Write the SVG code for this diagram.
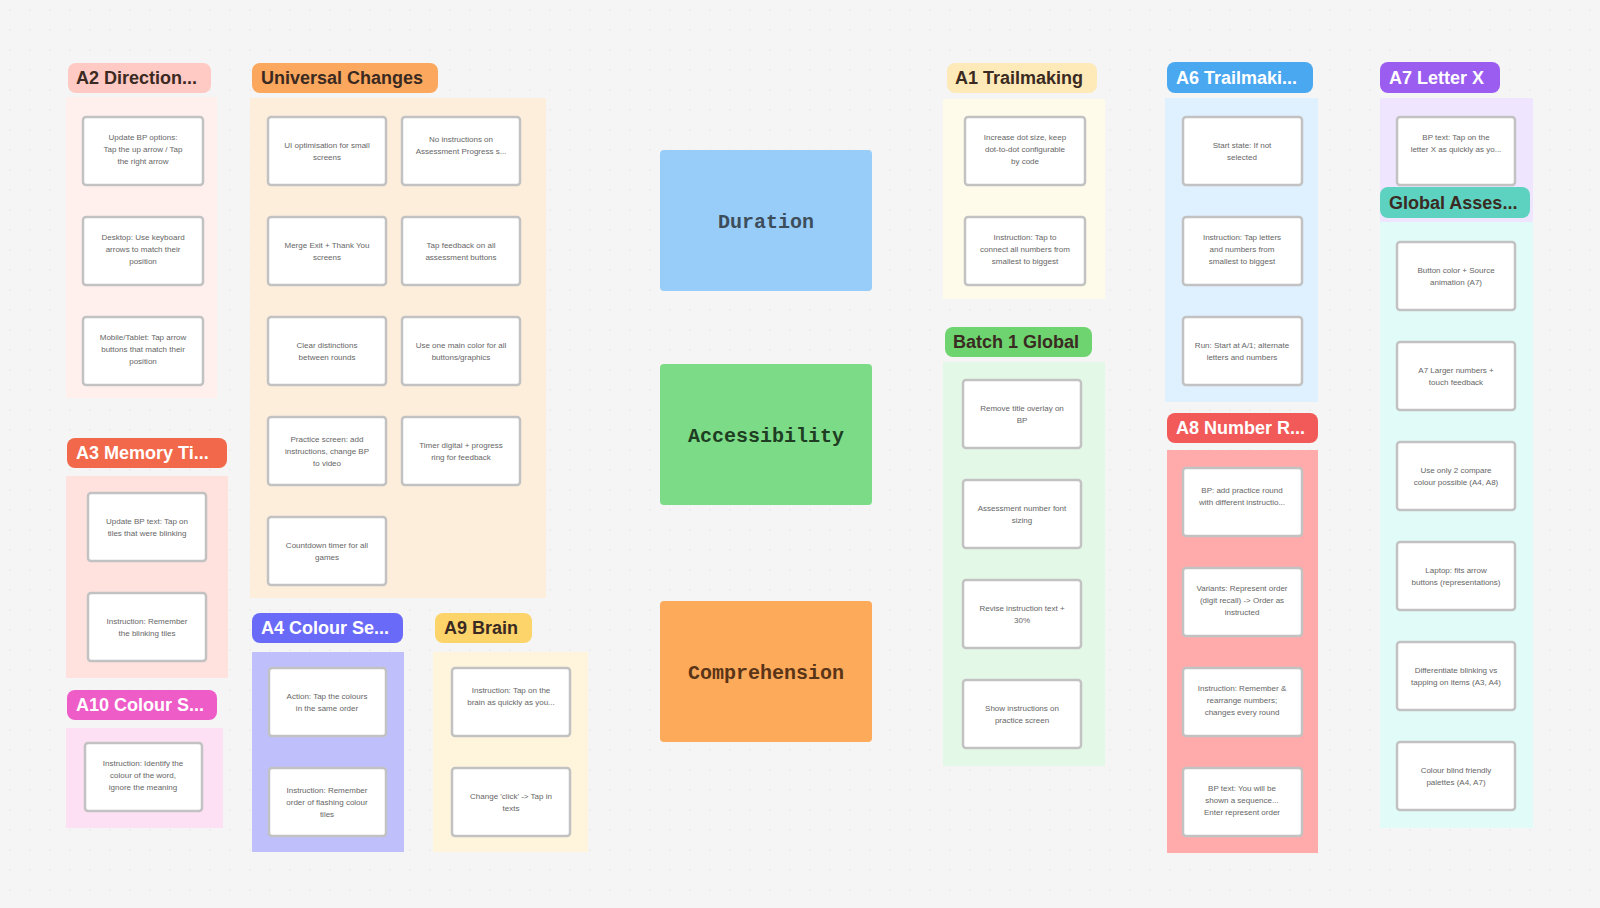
<svg xmlns="http://www.w3.org/2000/svg" width="1600" height="908" viewBox="0 0 1600 908">
<defs>
<pattern id="dots" width="20" height="20" patternUnits="userSpaceOnUse"><circle cx="10" cy="10" r="0.8" fill="#e6e6e6"/></pattern>
<style>
.hd{font-family:"Liberation Sans",Arial,sans-serif;font-weight:bold;font-size:18px}
.dk{fill:#3a2a22}
.wt{fill:#ffffff}
.card{fill:#ffffff;stroke:#c2c2c2;stroke-width:2.5}
.ct{font-family:"Liberation Sans",Arial,sans-serif;font-size:8px;fill:#666;text-anchor:middle}
.big{font-family:"Liberation Mono","Courier New",monospace;font-weight:bold;font-size:20px;text-anchor:middle}
</style>
</defs>
<rect width="1600" height="908" fill="#f5f5f5"/>
<rect width="1600" height="908" fill="url(#dots)"/>
<g id="connectors"></g>

<g id="a2">
<rect x="66" y="97" width="151" height="301" fill="#fff0ee"/>
<rect x="68" y="63" width="143" height="30" rx="8" fill="#ffc9c4"/>
<text class="hd dk" x="76" y="84">A2 Direction...</text>
<rect class="card" x="83" y="117" width="120" height="68" rx="3"/>
<text class="ct" x="143" y="140">Update BP options:</text><text class="ct" x="143" y="152">Tap the up arrow / Tap</text><text class="ct" x="143" y="164">the right arrow</text>
<rect class="card" x="83" y="217" width="120" height="68" rx="3"/>
<text class="ct" x="143" y="240">Desktop: Use keyboard</text><text class="ct" x="143" y="252">arrows to match their</text><text class="ct" x="143" y="264">position</text>
<rect class="card" x="83" y="317" width="120" height="68" rx="3"/>
<text class="ct" x="143" y="340">Mobile/Tablet: Tap arrow</text><text class="ct" x="143" y="352">buttons that match their</text><text class="ct" x="143" y="364">position</text>
</g>

<g id="a3">
<rect x="66" y="476" width="162" height="202" fill="#ffe1dd"/>
<rect x="67" y="438" width="160" height="30" rx="8" fill="#f2684a"/>
<text class="hd wt" x="76" y="459">A3 Memory Ti...</text>
<rect class="card" x="88" y="493" width="118" height="68" rx="3"/>
<text class="ct" x="147" y="524">Update BP text: Tap on</text><text class="ct" x="147" y="536">tiles that were blinking</text>
<rect class="card" x="88" y="593" width="118" height="68" rx="3"/>
<text class="ct" x="147" y="624">Instruction: Remember</text><text class="ct" x="147" y="636">the blinking tiles</text>
</g>

<g id="a10">
<rect x="66" y="728" width="157" height="100" fill="#fde0f3"/>
<rect x="67" y="690" width="150" height="30" rx="8" fill="#ee5cc8"/>
<text class="hd wt" x="76" y="711">A10 Colour S...</text>
<rect class="card" x="85" y="743" width="117" height="68" rx="3"/>
<text class="ct" x="143" y="766">Instruction: Identify the</text><text class="ct" x="143" y="778">colour of the word,</text><text class="ct" x="143" y="790">ignore the meaning</text>
</g>

<g id="universal">
<rect x="250" y="98" width="296" height="500" fill="#fdeedc"/>
<rect x="252" y="63" width="186" height="30" rx="8" fill="#fba85e"/>
<text class="hd dk" x="261" y="84">Universal Changes</text>
<rect class="card" x="268" y="117" width="118" height="68" rx="3"/>
<text class="ct" x="327" y="148">UI optimisation for small</text><text class="ct" x="327" y="160">screens</text>
<rect class="card" x="402" y="117" width="118" height="68" rx="3"/>
<text class="ct" x="461" y="142">No instructions on</text><text class="ct" x="461" y="154">Assessment Progress s...</text>
<rect class="card" x="268" y="217" width="118" height="68" rx="3"/>
<text class="ct" x="327" y="248">Merge Exit + Thank You</text><text class="ct" x="327" y="260">screens</text>
<rect class="card" x="402" y="217" width="118" height="68" rx="3"/>
<text class="ct" x="461" y="248">Tap feedback on all</text><text class="ct" x="461" y="260">assessment buttons</text>
<rect class="card" x="268" y="317" width="118" height="68" rx="3"/>
<text class="ct" x="327" y="348">Clear distinctions</text><text class="ct" x="327" y="360">between rounds</text>
<rect class="card" x="402" y="317" width="118" height="68" rx="3"/>
<text class="ct" x="461" y="348">Use one main color for all</text><text class="ct" x="461" y="360">buttons/graphics</text>
<rect class="card" x="268" y="417" width="118" height="68" rx="3"/>
<text class="ct" x="327" y="442">Practice screen: add</text><text class="ct" x="327" y="454">instructions, change BP</text><text class="ct" x="327" y="466">to video</text>
<rect class="card" x="402" y="417" width="118" height="68" rx="3"/>
<text class="ct" x="461" y="448">Timer digital + progress</text><text class="ct" x="461" y="460">ring for feedback</text>
<rect class="card" x="268" y="517" width="118" height="68" rx="3"/>
<text class="ct" x="327" y="548">Countdown timer for all</text><text class="ct" x="327" y="560">games</text>
</g>

<g id="a4">
<rect x="252" y="652" width="152" height="200" fill="#bfbffc"/>
<rect x="252" y="613" width="151" height="30" rx="8" fill="#6a6af8"/>
<text class="hd wt" x="261" y="634">A4 Colour Se...</text>
<rect class="card" x="269" y="668" width="117" height="68" rx="3"/>
<text class="ct" x="327" y="699">Action: Tap the colours</text><text class="ct" x="327" y="711">in the same order</text>
<rect class="card" x="269" y="768" width="117" height="68" rx="3"/>
<text class="ct" x="327" y="793">Instruction: Remember</text><text class="ct" x="327" y="805">order of flashing colour</text><text class="ct" x="327" y="817">tiles</text>
</g>

<g id="a9">
<rect x="433" y="652" width="155" height="200" fill="#fff4dc"/>
<rect x="435" y="613" width="97" height="30" rx="8" fill="#fcd46a"/>
<text class="hd dk" x="444" y="634">A9 Brain</text>
<rect class="card" x="452" y="668" width="118" height="68" rx="3"/>
<text class="ct" x="511" y="693">Instruction: Tap on the</text><text class="ct" x="511" y="705">brain as quickly as you...</text>
<rect class="card" x="452" y="768" width="118" height="68" rx="3"/>
<text class="ct" x="511" y="799">Change 'click' -&gt; Tap in</text><text class="ct" x="511" y="811">texts</text>
</g>

<g id="duration">
<rect x="660" y="150" width="212" height="141" rx="4" fill="#97cdf8"/>
<text class="big" x="766" y="228" fill="#3d4d5c">Duration</text>
</g>
<g id="accessibility">
<rect x="660" y="364" width="212" height="141" rx="4" fill="#7bdb86"/>
<text class="big" x="766" y="442" fill="#1e3d22">Accessibility</text>
</g>
<g id="comprehension">
<rect x="660" y="601" width="212" height="141" rx="4" fill="#fdaa5a"/>
<text class="big" x="766" y="679" fill="#5a3417">Comprehension</text>
</g>

<g id="a1">
<rect x="943" y="99" width="162" height="200" fill="#fffbea"/>
<rect x="947" y="63" width="150" height="30" rx="8" fill="#fdeab8"/>
<text class="hd dk" x="955" y="84">A1 Trailmaking</text>
<rect class="card" x="965" y="117" width="120" height="68" rx="3"/>
<text class="ct" x="1025" y="140">Increase dot size, keep</text><text class="ct" x="1025" y="152">dot-to-dot configurable</text><text class="ct" x="1025" y="164">by code</text>
<rect class="card" x="965" y="217" width="120" height="68" rx="3"/>
<text class="ct" x="1025" y="240">Instruction: Tap to</text><text class="ct" x="1025" y="252">connect all numbers from</text><text class="ct" x="1025" y="264">smallest to biggest</text>
</g>

<g id="batch1">
<rect x="943" y="362" width="162" height="404" fill="#e3f8e6"/>
<rect x="945" y="327" width="147" height="30" rx="8" fill="#6dd46f"/>
<text class="hd dk" x="953" y="348">Batch 1 Global</text>
<rect class="card" x="963" y="380" width="118" height="68" rx="3"/>
<text class="ct" x="1022" y="411">Remove title overlay on</text><text class="ct" x="1022" y="423">BP</text>
<rect class="card" x="963" y="480" width="118" height="68" rx="3"/>
<text class="ct" x="1022" y="511">Assessment number font</text><text class="ct" x="1022" y="523">sizing</text>
<rect class="card" x="963" y="580" width="118" height="68" rx="3"/>
<text class="ct" x="1022" y="611">Revise instruction text +</text><text class="ct" x="1022" y="623">30%</text>
<rect class="card" x="963" y="680" width="118" height="68" rx="3"/>
<text class="ct" x="1022" y="711">Show instructions on</text><text class="ct" x="1022" y="723">practice screen</text>
</g>

<g id="a6">
<rect x="1165" y="98" width="153" height="304" fill="#dff0ff"/>
<rect x="1167" y="62" width="146" height="31" rx="8" fill="#4aa8f0"/>
<text class="hd wt" x="1176" y="84">A6 Trailmaki...</text>
<rect class="card" x="1183" y="117" width="119" height="68" rx="3"/>
<text class="ct" x="1242" y="148">Start state: If not</text><text class="ct" x="1242" y="160">selected</text>
<rect class="card" x="1183" y="217" width="119" height="68" rx="3"/>
<text class="ct" x="1242" y="240">Instruction: Tap letters</text><text class="ct" x="1242" y="252">and numbers from</text><text class="ct" x="1242" y="264">smallest to biggest</text>
<rect class="card" x="1183" y="317" width="119" height="68" rx="3"/>
<text class="ct" x="1242" y="348">Run: Start at A/1; alternate</text><text class="ct" x="1242" y="360">letters and numbers</text>
</g>

<g id="a8">
<rect x="1167" y="450" width="151" height="403" fill="#ffabab"/>
<rect x="1167" y="413" width="151" height="30" rx="8" fill="#f25a5a"/>
<text class="hd wt" x="1176" y="434">A8 Number R...</text>
<rect class="card" x="1183" y="468" width="119" height="68" rx="3"/>
<text class="ct" x="1242" y="493">BP: add practice round</text><text class="ct" x="1242" y="505">with different instructio...</text>
<rect class="card" x="1183" y="568" width="119" height="68" rx="3"/>
<text class="ct" x="1242" y="591">Variants: Represent order</text><text class="ct" x="1242" y="603">(digit recall) -&gt; Order as</text><text class="ct" x="1242" y="615">instructed</text>
<rect class="card" x="1183" y="668" width="119" height="68" rx="3"/>
<text class="ct" x="1242" y="691">Instruction: Remember &amp;</text><text class="ct" x="1242" y="703">rearrange numbers;</text><text class="ct" x="1242" y="715">changes every round</text>
<rect class="card" x="1183" y="768" width="119" height="68" rx="3"/>
<text class="ct" x="1242" y="791">BP text: You will be</text><text class="ct" x="1242" y="803">shown a sequence...</text><text class="ct" x="1242" y="815">Enter represent order</text>
</g>

<g id="a7">
<rect x="1380" y="98" width="153" height="124" fill="#efe5ff"/>
<rect x="1380" y="62" width="120" height="31" rx="8" fill="#9b5cf0"/>
<text class="hd wt" x="1389" y="84">A7 Letter X</text>
<rect class="card" x="1397" y="117" width="118" height="68" rx="3"/>
<text class="ct" x="1456" y="140">BP text: Tap on the</text><text class="ct" x="1456" y="152">letter X as quickly as yo...</text>
</g>

<g id="global">
<rect x="1380" y="222" width="153" height="606" fill="#e1fbf8"/>
<rect x="1380" y="187" width="150" height="31" rx="8" fill="#5ed2c0"/>
<text class="hd dk" x="1389" y="209">Global Asses...</text>
<rect class="card" x="1397" y="242" width="118" height="68" rx="3"/>
<text class="ct" x="1456" y="273">Button color + Source</text><text class="ct" x="1456" y="285">animation (A7)</text>
<rect class="card" x="1397" y="342" width="118" height="68" rx="3"/>
<text class="ct" x="1456" y="373">A7 Larger numbers +</text><text class="ct" x="1456" y="385">touch feedback</text>
<rect class="card" x="1397" y="442" width="118" height="68" rx="3"/>
<text class="ct" x="1456" y="473">Use only 2 compare</text><text class="ct" x="1456" y="485">colour possible (A4, A8)</text>
<rect class="card" x="1397" y="542" width="118" height="68" rx="3"/>
<text class="ct" x="1456" y="573">Laptop: fits arrow</text><text class="ct" x="1456" y="585">buttons (representations)</text>
<rect class="card" x="1397" y="642" width="118" height="68" rx="3"/>
<text class="ct" x="1456" y="673">Differentiate blinking vs</text><text class="ct" x="1456" y="685">tapping on items (A3, A4)</text>
<rect class="card" x="1397" y="742" width="118" height="68" rx="3"/>
<text class="ct" x="1456" y="773">Colour blind friendly</text><text class="ct" x="1456" y="785">palettes (A4, A7)</text>
</g>
</svg>
